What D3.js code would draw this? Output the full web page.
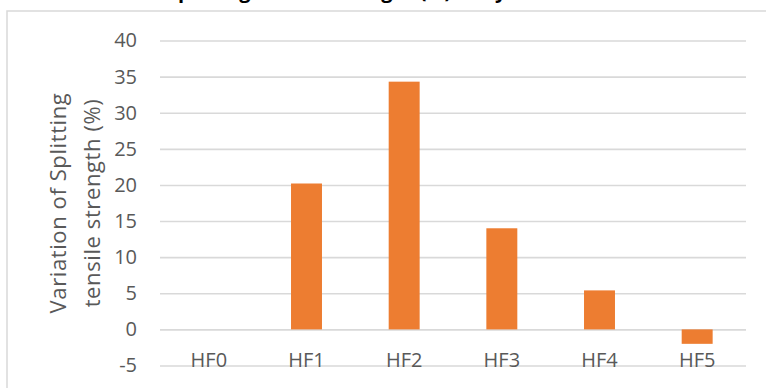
<!DOCTYPE html>
<html>
<head>
<meta charset="utf-8">
<script src="https://cdn.jsdelivr.net/npm/d3@7"></script>
<style>
  html, body { margin: 0; padding: 0; background: #fff; }
  svg { display: block; }
</style>
</head>
<body>
<svg id="chart" width="766" height="388"></svg>
<script>
// Splitting tensile strength variation per mix
const categories = ["HF0", "HF1", "HF2", "HF3", "HF4", "HF5"];
const variation = [0, 20.2, 34.3, 14.0, 5.4, -2.0];
const yTicks = [-5, 0, 5, 10, 15, 20, 25, 30, 35, 40];
const titleText = "Variation of Splitting tensile strength (%) of hybrid fibre concrete mixes";
const axisTitleLines = ["Variation of Splitting", "tensile strength (%)"];

const svg = d3.select("#chart");
const font = "'Open Sans', sans-serif";
const textColor = "#595959";
const gridColor = "#d9d9d9";
const barColor = "#ED7D31";

const plot = { left: 160, right: 746, top: 40.5, bottom: 365.5 };

const x = d3.scaleBand()
  .domain(categories)
  .range([plot.left, plot.right])
  .paddingInner(0.683)
  .paddingOuter(0.3415);

const y = d3.scaleLinear()
  .domain([-5, 40])
  .range([plot.bottom, plot.top]);

// chart frame
svg.append("rect")
  .attr("x", 7).attr("y", 11)
  .attr("width", 800).attr("height", 420)
  .attr("fill", "#fff")
  .attr("stroke", gridColor).attr("stroke-width", 1.5);

// chart title (sits above the frame, mostly beyond the top edge)
svg.append("text")
  .attr("x", 400).attr("y", -2)
  .attr("text-anchor", "middle")
  .attr("font-family", font)
  .attr("font-weight", "bold")
  .attr("font-size", 20)
  .attr("fill", "#000")
  .text(titleText);

// gridlines
const grid = svg.append("g")
  .attr("transform", `translate(${plot.left},0)`)
  .call(d3.axisLeft(y).tickValues(yTicks).tickSize(-(plot.right - plot.left)).tickFormat(""));
grid.select(".domain").remove();
grid.selectAll("line").attr("stroke", gridColor).attr("stroke-width", 1.6);

// bars
svg.append("g")
  .selectAll("rect")
  .data(variation)
  .join("rect")
  .attr("x", (d, i) => x(categories[i]))
  .attr("width", x.bandwidth())
  .attr("y", d => y(Math.max(0, d)))
  .attr("height", d => Math.abs(y(d) - y(0)))
  .attr("fill", barColor);

// y axis labels
const yAxis = svg.append("g")
  .attr("transform", `translate(137,0)`)
  .call(d3.axisLeft(y).tickValues(yTicks).tickSize(0).tickPadding(0).tickFormat(d => String(d)));
yAxis.select(".domain").remove();
yAxis.selectAll("text")
  .attr("font-family", font)
  .attr("font-size", 20)
  .attr("fill", textColor);

// category labels
const xAxis = svg.append("g")
  .attr("transform", `translate(0,367.3)`)
  .call(d3.axisBottom(x).tickSize(0));
xAxis.select(".domain").remove();
xAxis.selectAll("text")
  .attr("y", 0).attr("dy", 0)
  .attr("font-family", font)
  .attr("font-size", 20)
  .attr("fill", textColor);

// y axis title
const yTitle = svg.append("text")
  .attr("transform", "translate(58,203) rotate(-90)")
  .attr("text-anchor", "middle")
  .attr("font-family", font)
  .attr("font-size", 22)
  .attr("letter-spacing", 0.6)
  .attr("fill", textColor);
axisTitleLines.forEach((line, i) => {
  yTitle.append("tspan")
    .attr("x", 0)
    .attr("y", i * 34)
    .attr("dy", "0.35em")
    .text(line);
});
</script>
</body>
</html>
